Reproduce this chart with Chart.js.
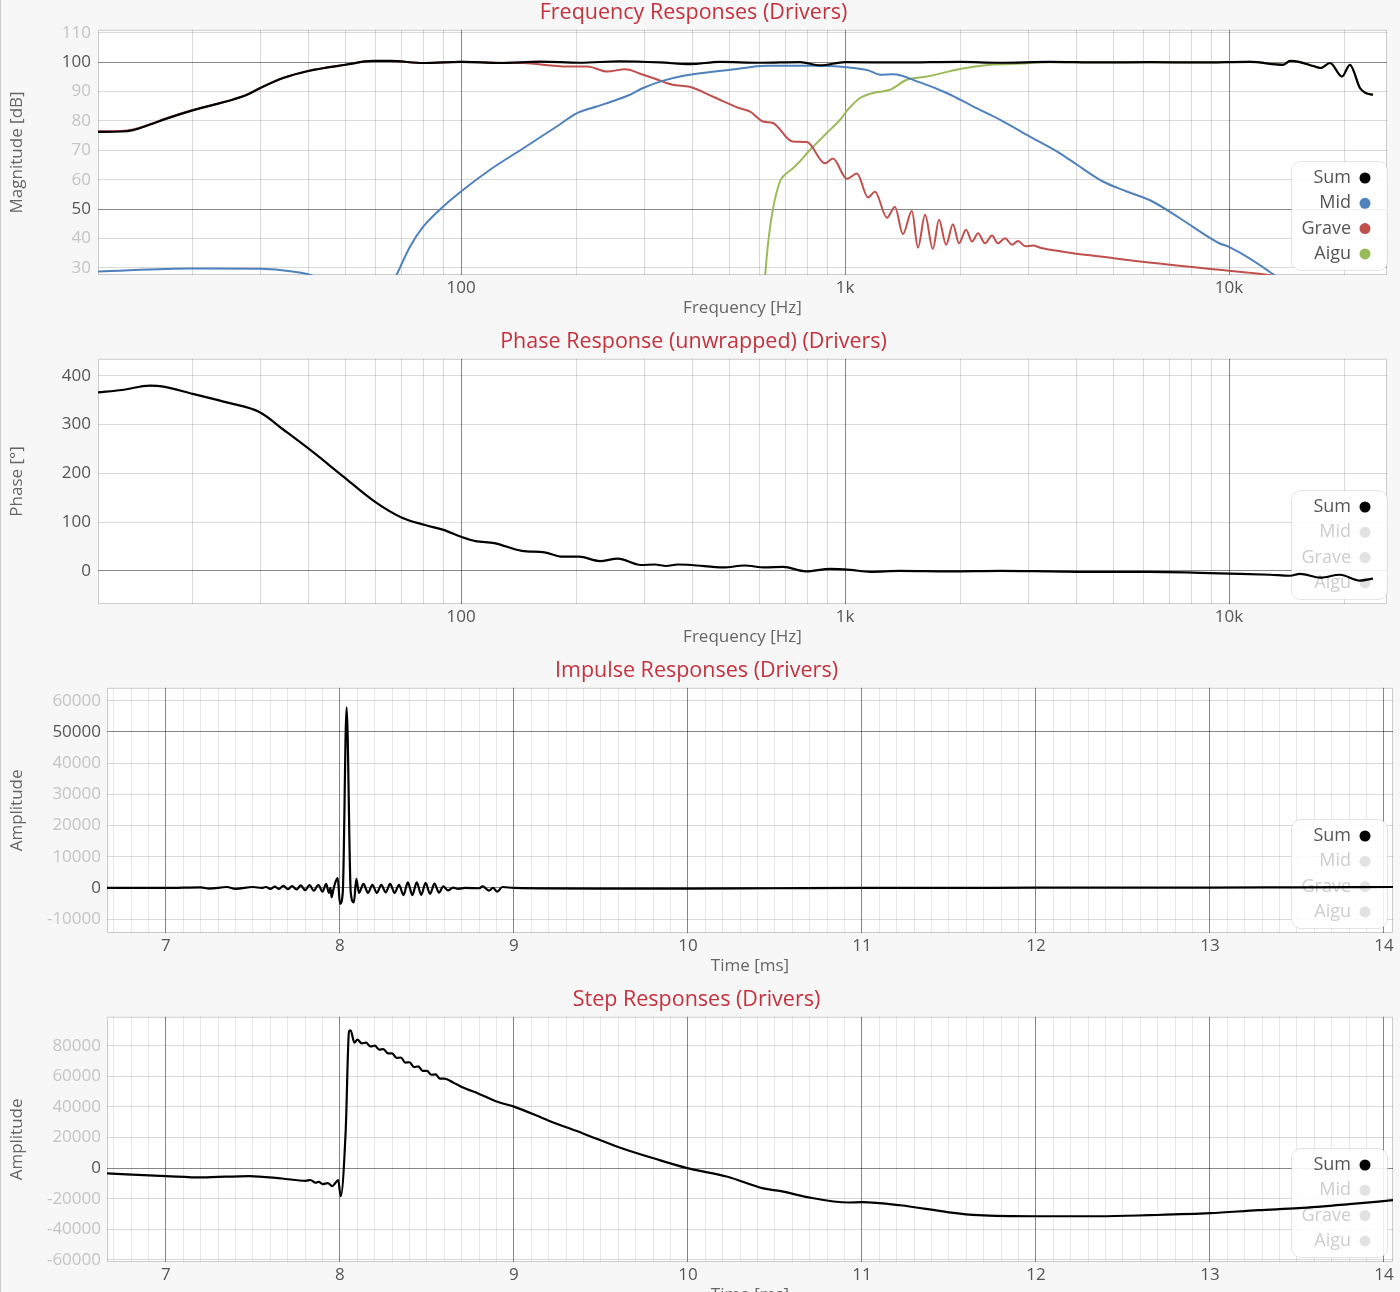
<!DOCTYPE html>
<html>
<head>
<meta charset="utf-8">
<title>Drivers</title>
<script src="https://cdn.jsdelivr.net/npm/chart.js@4.4.1/dist/chart.umd.min.js"></script>
<style>
    html, body { margin: 0; padding: 0; background: #f7f7f7; }
    #page { position: relative; width: 1400px; height: 1292px; overflow: hidden; }
    #page .edge { position: absolute; left: 0; top: 0; width: 1px; height: 100%; background: #cdcdcd; }
    .box { position: absolute; left: 0; width: 1400px; height: 329px; }
</style>
</head>
<body>
<div id="page">
    <div class="box" style="top:0"><canvas id="magnitudeChart"></canvas></div>
    <div class="box" style="top:329px"><canvas id="phaseChart"></canvas></div>
    <div class="box" style="top:658px"><canvas id="impulseChart"></canvas></div>
    <div class="box" style="top:987px"><canvas id="stepChart"></canvas></div>
    <div class="edge"></div>
</div>
<script>
window.addEventListener('load', initialize);

const driverNames = ['Sum', 'Mid', 'Grave', 'Aigu'];
const driverColors = ['#000000', '#4f81bd', '#c0504d', '#9bbb59'];

// magnitude (dB) per driver
const sumFreq = [11.34, 13.0, 14.0, 15.5, 17.1, 20, 25.5, 27.7, 30, 34.4, 40, 50, 59, 65.3, 80, 100, 126, 161, 204, 259, 330, 395, 472, 601, 764, 861, 1000, 1390, 1992, 2535, 3418, 4613, 6225, 8400, 11340, 13830, 14430, 15200, 16560, 17300, 18330, 19690, 20650, 21930, 22700, 23710];
const sumDb = [76.3, 76.4, 76.9, 78.8, 80.8, 83.6, 87.3, 88.9, 91.2, 94.6, 97.0, 99.1, 100.4, 100.4, 99.7, 100.1, 99.7, 100.2, 99.8, 100.3, 99.9, 99.3, 100.1, 99.8, 100.0, 98.9, 100.0, 99.9, 100.1, 99.8, 100.1, 99.9, 100.0, 99.9, 100.1, 99.1, 100.4, 100.1, 98.7, 98.0, 99.7, 95.1, 99.1, 91.2, 89.5, 88.9];

const midFreq = [11.34, 20, 30, 35.9, 41.7, 48.4, 56, 63, 68.0, 73.7, 79.8, 89.9, 100, 119, 145.3, 177.5, 200, 225.6, 254.4, 275.5, 298, 336.4, 379.3, 402, 502, 626, 824, 1010, 1150, 1236, 1333, 1568, 1839, 2159, 2536, 3030, 3630, 4020, 4696, 5420, 6320, 7450, 9430, 10000, 13200, 16000];
const midDb = [28.8, 29.8, 29.7, 28.9, 27.0, 20, 5, 18, 27.7, 37.3, 44.1, 50.9, 56.0, 63.4, 70.7, 78.1, 82.6, 84.9, 87.2, 88.9, 91.2, 93.7, 95.4, 95.9, 97.4, 98.8, 98.8, 98.3, 97.2, 95.7, 95.9, 93.1, 89.5, 84.9, 80.4, 74.7, 69.0, 65.1, 59.4, 56.0, 52.6, 46.9, 38.4, 37.2, 27.3, 18];

const graveFreq = [11.34, 13.0, 14.0, 15.5, 17.1, 20, 25.5, 27.7, 30, 34.4, 40, 50, 59, 65.3, 80, 100, 126, 145, 189, 213, 240, 268, 298, 316, 356, 394, 452, 532, 566, 612, 649, 730, 796, 887, 930, 1012, 1074, 1148, 1197, 1286, 1349, 1415, 1493, 1549, 1616, 1693, 1757, 1833, 1910, 1981, 2066, 2143, 2220, 2315, 2414, 2502, 2610, 2723, 2824, 2945, 3090, 3222, 3500, 3926, 4613, 5866, 9430, 13200, 16000];
const graveDb = [76.5, 76.6, 77.1, 78.9, 80.9, 83.7, 87.3, 88.9, 91.2, 94.6, 97.0, 99.1, 100.4, 100.4, 99.7, 100.1, 99.8, 99.7, 98.5, 98.5, 96.8, 97.6, 95.7, 94.6, 92.3, 91.6, 88.3, 84.3, 83.2, 79.8, 79.3, 73.0, 72.8, 65.6, 67.2, 60.3, 62.1, 54.0, 55.9, 47.1, 50.8, 41.5, 49.4, 36.9, 48.1, 36.5, 46.4, 37.9, 44.9, 38.4, 43.0, 39.0, 41.8, 38.4, 41.0, 38.4, 40.1, 37.9, 39.2, 37.4, 37.6, 36.9, 36.0, 35.0, 33.9, 32.2, 29.4, 27.3, 25];

const aiguFreq = [590, 619, 630, 649, 677, 690, 732, 755, 811, 861, 898, 971, 1012, 1049, 1094, 1183, 1309, 1449, 1636, 1992, 2386, 2978, 3222, 4613, 8400, 11340, 13830, 14430, 15200, 16560, 17300, 18330, 19690, 20650, 21930, 22700, 23710];
const aiguDb = [0, 27.1, 38, 50, 59.4, 61.1, 63.9, 65.6, 70.2, 73.6, 76.0, 80.4, 83.5, 85.7, 87.8, 89.5, 90.6, 94.0, 95.1, 97.7, 99.1, 99.6, 100.0, 100.0, 99.9, 100.1, 99.1, 100.4, 100.1, 98.7, 98.0, 99.7, 95.1, 99.1, 91.2, 89.5, 88.9];

// unwrapped phase of the sum (degrees)
const phaseFreq = [11.34, 13.1, 15.5, 16.8, 20, 24.7, 30, 34.3, 40.5, 49.1, 59.6, 70.2, 80.6, 90, 100, 109, 122, 144, 165, 184, 203, 230, 256, 294, 320, 342, 367, 398, 483, 547, 619, 690, 791, 914, 1031, 1162, 1390, 1877, 2535, 3418, 4613, 6225, 8400, 10680, 12790, 14430, 15310, 17300, 19450, 21930, 23710];
const phaseDeg = [366, 371, 380, 378, 363, 345, 325, 291, 248, 195, 142, 109, 94, 84, 70, 61, 57, 41, 38, 29, 29, 20, 25, 12, 13, 10, 13, 12, 7, 11, 7, 8, -1, 4, 2, -2, 0, -1, 0, -1, -2, -2, -4, -6, -8, -10, -6, -14, -8, -20, -16];

// impulse response of the sum
const impulseTime = [6.661, 7.0, 7.2, 7.25, 7.35, 7.4, 7.5, 7.55, 7.575, 7.6, 7.625, 7.65, 7.675, 7.7, 7.725, 7.75, 7.775, 7.8, 7.825, 7.85, 7.875, 7.9, 7.92, 7.937, 7.945, 7.952, 7.962, 7.975, 7.987, 8.0, 8.016, 8.038, 8.062, 8.08, 8.094, 8.109, 8.135, 8.161, 8.186, 8.212, 8.237, 8.263, 8.288, 8.314, 8.339, 8.365, 8.39, 8.416, 8.441, 8.467, 8.492, 8.518, 8.543, 8.569, 8.594, 8.62, 8.65, 8.68, 8.72, 8.8, 8.82, 8.856, 8.88, 8.904, 8.933, 9.0, 9.5, 10.0, 10.5, 11.0, 11.5, 12.0, 12.5, 13.0, 13.5, 14.052];
const impulseAmp = [0, 0, 200, -200, 300, -300, 300, 0, 300, -300, 400, -300, 700, -400, 600, -500, 800, -700, 900, -900, 1000, -1200, 1300, -1600, 0, -3000, -500, 2000, 3200, -5100, -1500, 57900, -1500, -4600, 2900, -1600, 1300, -1600, 1000, -1600, 1000, -1400, 1300, -1600, 1000, -2300, 1800, -2300, 1800, -2200, 1600, -1900, 1400, -1500, 500, -800, 100, -300, 0, -100, 500, -850, 0, -1180, 300, 0, -200, -200, -100, 0, 0, 100, 100, 100, 200, 300];

// step response of the sum
const stepTime = [6.661, 7.0, 7.207, 7.477, 7.667, 7.803, 7.83, 7.86, 7.879, 7.9, 7.93, 7.956, 7.975, 7.99, 8.004, 8.033, 8.052, 8.061, 8.083, 8.1, 8.125, 8.15, 8.175, 8.2, 8.225, 8.25, 8.275, 8.3, 8.325, 8.35, 8.375, 8.4, 8.425, 8.45, 8.475, 8.5, 8.525, 8.55, 8.575, 8.6, 8.65, 8.7, 8.8, 8.9, 9.0, 9.2, 9.4, 9.611, 9.816, 9.995, 10.228, 10.433, 10.535, 10.678, 10.925, 11.0, 11.22, 11.5, 11.67, 12.0, 12.36, 12.65, 13.0, 13.28, 13.51, 13.8, 14.052];
const stepAmp = [-3500, -5200, -6100, -5200, -6800, -8300, -7800, -9600, -9000, -10500, -9800, -11800, -9500, -7900, -18400, 24900, 89400, 90100, 82000, 84000, 81500, 82000, 79500, 80000, 77500, 77800, 75000, 75000, 72000, 72300, 69000, 69200, 66000, 66500, 63500, 63500, 61000, 61200, 58500, 58500, 56000, 53000, 48500, 43500, 40200, 31000, 22500, 13300, 5900, 0, -5700, -13300, -15100, -18800, -22500, -22300, -24300, -28900, -30800, -31500, -31500, -30800, -29500, -27500, -26200, -23600, -21000];

// axis ticks
const magTicks = [30, 40, 50, 60, 70, 80, 90, 100, 110];
const phaseTicks = [0, 100, 200, 300, 400];
const impulseTicks = [-10000, 0, 10000, 20000, 30000, 40000, 50000, 60000];
const stepTicks = [-60000, -40000, -20000, 0, 20000, 40000, 60000, 80000];
const freqLabels = { 100: '100', 1000: '1k', 10000: '10k' };

const freqGrid = [];
for (const decade of [10, 100, 1000, 10000]) {
    for (let m = 1; m <= 9; m++) {
        if (decade * m > 11.4 && decade * m < 25000) freqGrid.push(decade * m);
    }
}
const timeGrid = [];
for (let k = 67; k <= 140; k++) timeGrid.push(k / 10);

const titleColor = 'rgb(196, 50, 62)';
const darkLine = 'rgba(0, 0, 0, 0.47)';
const lightLine = 'rgba(0, 0, 0, 0.15)';
const faintLine = 'rgba(0, 0, 0, 0.09)';
const darkText = '#555';
const lightText = '#c4c4c4';

Chart.defaults.font.family = '"Open Sans", sans-serif';
Chart.defaults.color = '#555';

let magnitudeChart, phaseChart, impulseChart, stepChart;

const plotFrame = {
    id: 'plotFrame',
    beforeDraw(chart) {
        const { ctx, chartArea: a, width, height } = chart;
        ctx.save();
        ctx.fillStyle = '#f7f7f7';
        ctx.fillRect(0, 0, width, height);
        ctx.fillStyle = '#ffffff';
        ctx.fillRect(a.left, a.top, a.right - a.left, a.bottom - a.top);
        ctx.restore();
    },
    beforeDatasetsDraw(chart) {
        const { ctx, chartArea: a } = chart;
        ctx.save();
        ctx.strokeStyle = 'rgba(0, 0, 0, 0.2)';
        ctx.lineWidth = 1;
        ctx.strokeRect(a.left + 0.5, a.top + 0.5, a.right - a.left - 1, a.bottom - a.top - 1);
        ctx.restore();
    }
};

const driverLegend = {
    id: 'driverLegend',
    beforeDatasetsDraw(chart, args, opts) {
        const ctx = chart.ctx;
        ctx.save();
        ctx.beginPath();
        ctx.roundRect(1291.5, 161.5, 96, 109, 9);
        ctx.fillStyle = 'rgba(255, 255, 255, 0.88)';
        ctx.fill();
        ctx.strokeStyle = 'rgba(0, 0, 0, 0.1)';
        ctx.stroke();
        ctx.font = '18px "Open Sans", sans-serif';
        ctx.textAlign = 'right';
        ctx.textBaseline = 'middle';
        driverNames.forEach((name, i) => {
            const on = opts.showAll || i === 0;
            const y = 178 + i * 25.3;
            ctx.fillStyle = on ? '#555' : '#cdcdcd';
            ctx.fillText(name, 1351, y);
            ctx.beginPath();
            ctx.arc(1365, y, 5.5, 0, Math.PI * 2);
            ctx.fillStyle = on ? driverColors[i] : '#e2e2e2';
            ctx.fill();
        });
        ctx.restore();
    }
};

function initialize() {
    loadMagnitudeChart();
    loadPhaseChart();
    loadImpulseChart();
    loadStepChart();
}

function toPoints(xs, ys) {
    return xs.map((x, i) => ({ x: x, y: ys[i] }));
}

function lineDataset(label, xs, ys, color, width) {
    return {
        label: label,
        data: toPoints(xs, ys),
        borderColor: color,
        backgroundColor: color,
        borderWidth: width,
        pointRadius: 0,
        cubicInterpolationMode: 'monotone',
        fill: false
    };
}

function freqAxis() {
    return {
        type: 'logarithmic',
        bounds: 'data',
        min: 11.34,
        max: 25790,
        afterBuildTicks: axis => { axis.ticks = freqGrid.map(v => ({ value: v })); },
        afterFit: axis => { axis.height = 54; },
        grid: { color: ctx => (ctx.tick && freqLabels[ctx.tick.value]) ? darkLine : lightLine, drawTicks: false },
        border: { display: false },
        ticks: {
            autoSkip: false, maxRotation: 0, padding: 3, color: darkText,
            font: { size: 17 },
            callback: v => freqLabels[v] || ''
        },
        title: { display: true, text: 'Frequency [Hz]', color: '#666', font: { size: 17 }, padding: { top: 0, bottom: 11 } }
    };
}

function timeAxis() {
    return {
        type: 'linear',
        bounds: 'data',
        min: 6.661,
        max: 14.052,
        afterBuildTicks: axis => { axis.ticks = timeGrid.map(v => ({ value: v })); },
        afterFit: axis => { axis.height = 54; },
        grid: { color: ctx => (ctx.tick && Number.isInteger(ctx.tick.value)) ? darkLine : faintLine, drawTicks: false },
        border: { display: false },
        ticks: {
            autoSkip: false, maxRotation: 0, padding: 3, color: darkText,
            font: { size: 17 },
            callback: v => Number.isInteger(v) ? String(v) : ''
        },
        title: { display: true, text: 'Time [ms]', color: '#666', font: { size: 17 }, padding: { top: 0, bottom: 11 } }
    };
}

function valueAxis(cfg) {
    return {
        type: 'linear',
        bounds: 'data',
        min: cfg.min,
        max: cfg.max,
        afterBuildTicks: axis => { axis.ticks = cfg.ticks.map(v => ({ value: v })); },
        afterFit: axis => { axis.width = cfg.width; },
        grid: { color: ctx => (ctx.tick && cfg.strong.includes(ctx.tick.value)) ? darkLine : cfg.line, drawTicks: false },
        border: { display: false },
        ticks: {
            autoSkip: false, padding: cfg.pad,
            font: { size: 17 },
            color: ctx => (ctx.tick && cfg.strongText.includes(ctx.tick.value)) ? darkText : lightText,
            callback: v => String(v)
        },
        title: { display: true, text: cfg.title, color: '#666', font: { size: 17 }, padding: { top: 7, bottom: 0 } }
    };
}

function chartOptions(title, xAxis, yAxis, rightPad, showAll) {
    return {
        responsive: true,
        maintainAspectRatio: false,
        animation: false,
        events: [],
        layout: { padding: { left: 0, right: rightPad, top: 0, bottom: 0 } },
        scales: { x: xAxis, y: yAxis },
        plugins: {
            legend: { display: false },
            tooltip: { enabled: false },
            title: {
                display: true, text: title, color: titleColor,
                font: { size: 21.5, weight: 'normal' },
                padding: { top: 0, bottom: 4 }
            },
            driverLegend: { showAll: showAll }
        }
    };
}

function loadMagnitudeChart() {
    const ctx = document.getElementById('magnitudeChart').getContext('2d');
    magnitudeChart = new Chart(ctx, {
        type: 'line',
        data: {
            datasets: [
                lineDataset('Sum', sumFreq, sumDb, driverColors[0], 2.2),
                lineDataset('Mid', midFreq, midDb, driverColors[1], 2),
                lineDataset('Grave', graveFreq, graveDb, driverColors[2], 2),
                lineDataset('Aigu', aiguFreq, aiguDb, driverColors[3], 2)
            ]
        },
        options: chartOptions('Frequency Responses (Drivers)', freqAxis(), valueAxis({
            min: 27.6, max: 111, ticks: magTicks, width: 98, pad: 7,
            strong: [50, 100], strongText: [50, 100], line: lightLine, title: 'Magnitude [dB]'
        }), 13, true),
        plugins: [plotFrame, driverLegend]
    });
}

function loadPhaseChart() {
    const ctx = document.getElementById('phaseChart').getContext('2d');
    phaseChart = new Chart(ctx, {
        type: 'line',
        data: { datasets: [lineDataset('Sum', phaseFreq, phaseDeg, driverColors[0], 2.2)] },
        options: chartOptions('Phase Response (unwrapped) (Drivers)', freqAxis(), valueAxis({
            min: -68, max: 435, ticks: phaseTicks, width: 98, pad: 7,
            strong: [0], strongText: phaseTicks, line: 'rgba(0, 0, 0, 0.15)', title: 'Phase [°]'
        }), 13, false),
        plugins: [plotFrame, driverLegend]
    });
}

function loadImpulseChart() {
    const ctx = document.getElementById('impulseChart').getContext('2d');
    impulseChart = new Chart(ctx, {
        type: 'line',
        data: { datasets: [lineDataset('Sum', impulseTime, impulseAmp, driverColors[0], 2.2)] },
        options: chartOptions('Impulse Responses (Drivers)', timeAxis(), valueAxis({
            min: -14440, max: 64170, ticks: impulseTicks, width: 107, pad: 6,
            strong: [0, 50000], strongText: [0, 50000], line: 'rgba(0, 0, 0, 0.15)', title: 'Amplitude'
        }), 7, false),
        plugins: [plotFrame, driverLegend]
    });
}

function loadStepChart() {
    const ctx = document.getElementById('stepChart').getContext('2d');
    stepChart = new Chart(ctx, {
        type: 'line',
        data: { datasets: [lineDataset('Sum', stepTime, stepAmp, driverColors[0], 2.2)] },
        options: chartOptions('Step Responses (Drivers)', timeAxis(), valueAxis({
            min: -61400, max: 98900, ticks: stepTicks, width: 107, pad: 6,
            strong: [0], strongText: [0], line: 'rgba(0, 0, 0, 0.15)', title: 'Amplitude'
        }), 7, false),
        plugins: [plotFrame, driverLegend]
    });
}
</script>
</body>
</html>
